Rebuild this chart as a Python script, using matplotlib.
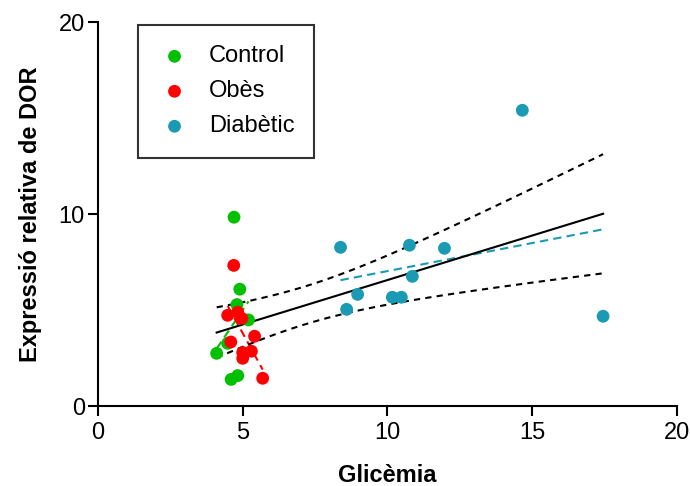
import numpy as np
import matplotlib
matplotlib.use('Agg')
import matplotlib.pyplot as plt

plt.rcParams['font.family'] = ['Liberation Sans', 'DejaVu Sans']

# dades llegides del gràfic
control_x = [4.70, 4.90, 4.80, 5.20, 4.10, 4.48, 4.60, 4.83]
control_y = [9.85, 6.10, 5.30, 4.50, 2.76, 3.28, 1.40, 1.60]

obes_x = [4.69, 4.48, 4.83, 4.97, 5.41, 4.59, 5.00, 5.30, 5.00, 5.69]
obes_y = [7.34, 4.74, 4.90, 4.58, 3.65, 3.35, 2.80, 2.87, 2.50, 1.46]

diab_x = [8.38, 8.59, 8.97, 10.17, 10.48, 10.76, 10.86, 11.97, 14.66, 17.45]
diab_y = [8.28, 5.05, 5.83, 5.68, 5.68, 8.39, 6.77, 8.23, 15.42, 4.69]

groups = ['Control', 'Obès', 'Diabètic']
colors = ['#00C000', '#FF0000', '#1A9BB3']

fig = plt.figure(figsize=(6.9, 4.86), dpi=100)
ax = fig.add_axes([0.142, 0.164, 0.839, 0.79])

# regressions per grup
for gx, gy, c in zip([control_x, obes_x, diab_x], [control_y, obes_y, diab_y], colors):
    gx = np.array(gx)
    gy = np.array(gy)
    b, a = np.polyfit(gx, gy, 1)
    xx = np.array([gx.min(), gx.max()])
    ax.plot(xx, a + b * xx, '--', color=c, lw=1.5, dashes=(4, 2.5), zorder=2)

# regressió global amb IC 95%
allx = np.array(control_x + obes_x + diab_x)
ally = np.array(control_y + obes_y + diab_y)
b, a = np.polyfit(allx, ally, 1)
n = len(allx)
res = ally - (a + b * allx)
s = np.sqrt(np.sum(res ** 2) / (n - 2))
t = 2.056
xx = np.linspace(allx.min(), allx.max(), 100)
yy = a + b * xx
se = s * np.sqrt(1 / n + (xx - allx.mean()) ** 2 / np.sum((allx - allx.mean()) ** 2))
ax.plot(xx, yy, '-', color='black', lw=1.5, zorder=3)
ax.plot(xx, yy + t * se, '--', color='black', lw=1.5, dashes=(3, 2.5), zorder=3)
ax.plot(xx, yy - t * se, '--', color='black', lw=1.5, dashes=(3, 2.5), zorder=3)

# punts
for gx, gy, c, g in zip([control_x, obes_x, diab_x], [control_y, obes_y, diab_y], colors, groups):
    ax.scatter(gx, gy, s=85, color=c, edgecolors='none', label=g, zorder=4)

ax.set_xlim(0, 20)
ax.set_ylim(0, 20)
ax.set_xticks([0, 5, 10, 15, 20])
ax.set_yticks([0, 10, 20])
ax.spines['top'].set_visible(False)
ax.spines['right'].set_visible(False)
ax.spines['left'].set_linewidth(1.5)
ax.spines['bottom'].set_linewidth(1.5)
ax.tick_params(direction='out', length=7.5, width=1.5, labelsize=17)
ax.tick_params(axis='x', pad=4)
ax.tick_params(axis='y', pad=2)

ax.set_xlabel('Glicèmia', fontsize=17, fontweight='bold', labelpad=14)
ax.set_ylabel('Expressió relativa de DOR', fontsize=17, fontweight='bold', labelpad=12)

leg = ax.legend(loc='upper left', bbox_to_anchor=(0.069, 0.992), fontsize=17,
                frameon=True, fancybox=False, edgecolor='black', handletextpad=0.75,
                borderpad=0.85, labelspacing=0.55, handlelength=1.4, borderaxespad=0,
                scatterpoints=1, markerscale=1.0)
leg.get_frame().set_linewidth(1.5)

fig.savefig('out.png', dpi=100)
